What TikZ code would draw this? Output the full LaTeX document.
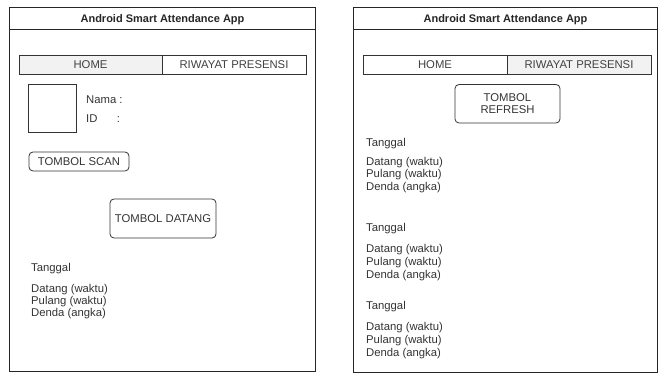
\documentclass[tikz,border=0pt]{standalone}
\usepackage{fontspec}
\setmainfont{Liberation Sans}
\begin{document}
\begin{tikzpicture}[x=1pt,y=-1pt,
  frame/.style={draw=black!85, line width=0.9pt},
  tab/.style={draw=black!80, line width=0.8pt, text=black!75},
  btn/.style={draw=black!80, line width=0.8pt, rounded corners=4pt, text=black!80},
  txt/.style={font=\fontsize{11.3}{12}\selectfont, text=black!80, inner sep=0pt, anchor=mid west, yshift=-1.5pt},
  lbl/.style={font=\fontsize{11.3}{12}\selectfont, text=black!80, inner sep=0pt},
  ttl/.style={font=\bfseries\fontsize{11}{12}\selectfont, text=black!85, inner sep=0pt, yshift=-1pt}]
\useasboundingbox (0,0) rectangle (662,374);
% ---------- left panel ----------
\draw[frame] (9.5,7.5) rectangle (315.5,371);
\draw[frame] (9.5,29.5) -- (315.5,29.5);
\node[ttl] (lt) at (162.5,18.5) {Android Smart Attendance App};
\draw[tab, fill=black!5] (19,55) rectangle (162,74);
\draw[tab, fill=white] (162,55) rectangle (306,74);
\node[lbl, text=black!75] (lhome) at (90.5,64.5) {HOME};
\node[lbl, text=black!75] (lriw) at (234,64.5) {RIWAYAT PRESENSI};
\draw[tab] (28.5,84.5) rectangle (76.5,132);
\node[txt] (nama) at (86,99) {Nama :};
\node[txt] (id) at (86,118) {ID\hspace{19.5pt}:};
\draw[btn] (29,152) rectangle (129,171);
\node[lbl] (scan) at (79,161.5) {TOMBOL SCAN};
\draw[btn] (110,199) rectangle (216,238);
\node[lbl] (datang) at (163,218.5) {TOMBOL DATANG};
\node[txt] (tg1) at (31,267) {Tanggal};
\node[txt] (d1) at (31,288) {Datang (waktu)};
\node[txt] (p1) at (31,300) {Pulang (waktu)};
\node[txt] (e1) at (31,312) {Denda (angka)};
% ---------- right panel ----------
\draw[frame] (353.5,7.5) rectangle (657.5,372);
\draw[frame] (353.5,29.5) -- (657.5,29.5);
\node[ttl] (rt) at (505.5,18.5) {Android Smart Attendance App};
\draw[tab, fill=white] (363,55) rectangle (507,74);
\draw[tab, fill=black!5] (507,55) rectangle (651,74);
\node[lbl, text=black!75] (rhome) at (435,64.5) {HOME};
\node[lbl, text=black!75] (rriw) at (579,64.5) {RIWAYAT PRESENSI};
\draw[btn] (455,84.5) rectangle (560,123);
\node[lbl, align=center] (refresh) at (507.5,103.5) {TOMBOL\\REFRESH};
\node[txt] (tg2) at (366,142) {Tanggal};
\node[txt] (d2) at (366,161) {Datang (waktu)};
\node[txt] (p2) at (366,173.5) {Pulang (waktu)};
\node[txt] (e2) at (366,186) {Denda (angka)};
\node[txt] (tg3) at (366,227.5) {Tanggal};
\node[txt] (d3) at (366,248) {Datang (waktu)};
\node[txt] (p3) at (366,261.5) {Pulang (waktu)};
\node[txt] (e3) at (366,274.5) {Denda (angka)};
\node[txt] (tg4) at (366,305) {Tanggal};
\node[txt] (d4) at (366,326) {Datang (waktu)};
\node[txt] (p4) at (366,339.5) {Pulang (waktu)};
\node[txt] (e4) at (366,352.5) {Denda (angka)};
\end{tikzpicture}
\end{document}
